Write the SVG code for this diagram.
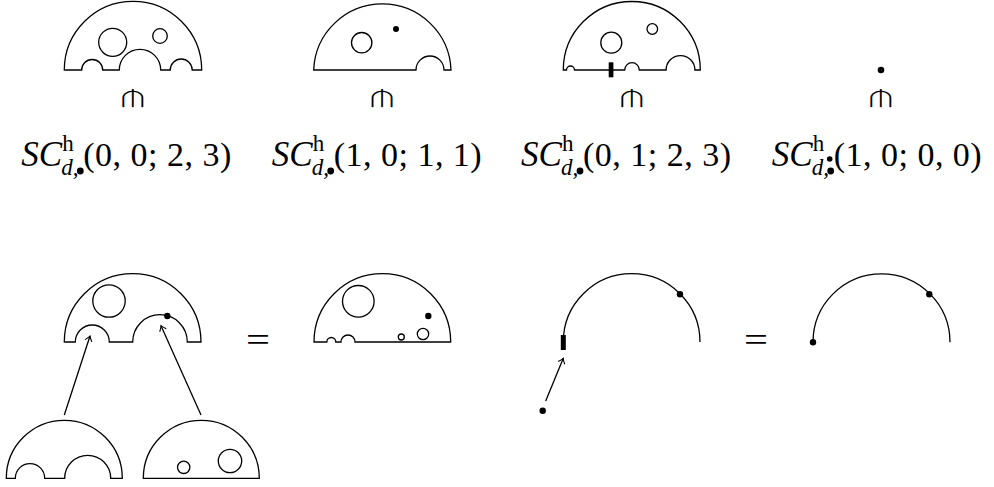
<svg xmlns="http://www.w3.org/2000/svg" width="994" height="487" viewBox="0 0 994 487">
<style>
.ln{fill:none;stroke:#000;stroke-width:1.3}
.dot{fill:#000}
.mt{font-family:"Liberation Serif",serif;fill:#000}
.it{font-style:italic}
.sym{font-family:"DejaVu Sans",sans-serif;font-size:32px;text-anchor:middle;fill:#000;stroke:#fff;stroke-width:1.35}
.eq{font-family:"Liberation Serif",serif;font-size:34px;text-anchor:middle;fill:#000}
</style>
<defs>
<marker id="ah" markerUnits="userSpaceOnUse" orient="auto" markerWidth="12" markerHeight="12" refX="0" refY="0" viewBox="-8 -6 10 12" overflow="visible">
<path d="M-5,-3.6 Q-1.8,-0.8 0,0 Q-1.8,0.8 -5,3.6" fill="none" stroke="#000" stroke-width="1.1"/>
</marker>
<clipPath id="symclip"><rect x="-30" y="-18.6" width="60" height="21"/></clipPath>
</defs>

<!-- top row -->
<g id="top1">
<path class="ln" d="M64.3,70 A68.7,68.7 0 0 1 201.7,70 L192.2,70 A11,11 0 0 0 170.2,70 L160.7,70 A20.7,20.7 0 0 0 119.3,70 L102.7,70 A10.5,10.5 0 0 0 81.7,70 Z"/>
<circle class="ln" cx="112.7" cy="42.3" r="14"/>
<circle class="ln" cx="160" cy="36" r="7.3"/>
<g transform="translate(132.7,107.6)"><text class="sym" x="0" y="0" transform="scale(1.55,1)" clip-path="url(#symclip)">⋔</text></g>
</g>
<g id="top2">
<path class="ln" d="M313.7,70 A68.7,68.7 0 0 1 451,70 L444,70 A14,14 0 0 0 416,70 Z"/>
<circle class="ln" cx="361.7" cy="42.7" r="10.2"/>
<circle class="dot" cx="396" cy="29" r="3"/>
<g transform="translate(382,107.6)"><text class="sym" x="0" y="0" transform="scale(1.55,1)" clip-path="url(#symclip)">⋔</text></g>
</g>
<g id="top3">
<path class="ln" d="M563.3,70 A68.5,68.5 0 0 1 700.3,70 L694.9,70 A14.4,14.4 0 0 0 666.1,70 L639.3,70 A7.3,7.3 0 0 0 624.7,70 L574.5,70 A4,4 0 0 0 566.5,70 Z"/>
<rect class="dot" x="608.7" y="62.3" width="4.7" height="15"/>
<circle class="ln" cx="611.3" cy="42.7" r="10.5"/>
<circle class="ln" cx="652.3" cy="29" r="5.3"/>
<g transform="translate(631.7,107.6)"><text class="sym" x="0" y="0" transform="scale(1.55,1)" clip-path="url(#symclip)">⋔</text></g>
</g>
<g id="top4">
<circle class="dot" cx="881" cy="70" r="3.3"/>
<g transform="translate(880.8,107.6)"><text class="sym" x="0" y="0" transform="scale(1.55,1)" clip-path="url(#symclip)">⋔</text></g>
</g>

<!-- labels -->
<g id="label1" transform="translate(22.3,0)">
<text class="mt it" x="-1" y="166" font-size="35">SC</text>
<text class="mt" x="40" y="151" font-size="23">h</text>
<text class="mt it" x="39" y="175" font-size="23">d,</text>
<circle class="dot" cx="58" cy="171" r="3.4"/>
<text class="mt" x="61" y="166" font-size="34" textLength="148" lengthAdjust="spacing">(0, 0; 2, 3)</text>
</g>
<g id="label2" transform="translate(272.7,0)">
<text class="mt it" x="-1" y="166" font-size="35">SC</text>
<text class="mt" x="40" y="151" font-size="23">h</text>
<text class="mt it" x="39" y="175" font-size="23">d,</text>
<circle class="dot" cx="58" cy="171" r="3.4"/>
<text class="mt" x="61" y="166" font-size="34" textLength="148" lengthAdjust="spacing">(1, 0; 1, 1)</text>
</g>
<g id="label3" transform="translate(522,0)">
<text class="mt it" x="-1" y="166" font-size="35">SC</text>
<text class="mt" x="40" y="151" font-size="23">h</text>
<text class="mt it" x="39" y="175" font-size="23">d,</text>
<circle class="dot" cx="58" cy="171" r="3.4"/>
<text class="mt" x="61" y="166" font-size="34" textLength="148" lengthAdjust="spacing">(0, 1; 2, 3)</text>
</g>
<g id="label4" transform="translate(772.7,0)">
<text class="mt it" x="-1" y="166" font-size="35">SC</text>
<text class="mt" x="40" y="151" font-size="23">h</text>
<text class="mt it" x="39" y="175" font-size="23">d,</text>
<circle class="dot" cx="57" cy="159" r="2.8"/>
<circle class="dot" cx="58" cy="171" r="3.4"/>
<text class="mt" x="61" y="166" font-size="34" textLength="148" lengthAdjust="spacing">(1, 0; 0, 0)</text>
</g>

<!-- bottom row -->
<g id="glueA">
<path class="ln" d="M64.3,342 A68.3,68.3 0 0 1 201,342 L187.3,342 A27.3,27.3 0 0 0 132.7,342 L109.3,342 A17,17 0 0 0 75.3,342 Z"/>
<circle class="ln" cx="109" cy="301" r="16.2"/>
<circle class="dot" cx="167.3" cy="316" r="3.2"/>
</g>
<g id="eq1"><text class="eq" x="0" y="0" transform="translate(258,351) scale(1.25,1)">=</text></g>
<g id="glueB">
<path class="ln" d="M314,342 A68.3,68.3 0 0 1 450.7,342 L355,342 A7,7 0 0 0 341,342 L335.8,342 A4.5,4.5 0 0 0 326.8,342 Z"/>
<circle class="ln" cx="358.3" cy="301.3" r="15.8"/>
<circle class="ln" cx="401.3" cy="337" r="3"/>
<circle class="ln" cx="423" cy="334" r="5.7"/>
<circle class="dot" cx="428.3" cy="316" r="3.2"/>
</g>
<g id="pieceA">
<path class="ln" d="M6.3,478.3 A58,58 0 0 1 122.3,478.3 L110.7,478.3 A23,23 0 0 0 64.7,478.3 L44.7,478.3 A14.7,14.7 0 0 0 15.3,478.3 Z"/>
</g>
<g id="pieceB">
<path class="ln" d="M143.3,478.3 A58,58 0 0 1 259.3,478.3 Z"/>
<circle class="ln" cx="183.7" cy="467.3" r="6.2"/>
<circle class="ln" cx="230" cy="461" r="11.7"/>
</g>
<g id="arcA">
<path class="ln" d="M563.3,342 A68.35,68.35 0 0 1 700,342"/>
<rect class="dot" x="560.8" y="335" width="5" height="15"/>
<circle class="dot" cx="680" cy="294.3" r="3.2"/>
</g>
<g id="ptA">
<circle class="dot" cx="542.7" cy="410.7" r="3.2"/>
</g>
<g id="eq2"><text class="eq" x="0" y="0" transform="translate(756,351) scale(1.25,1)">=</text></g>
<g id="arcB">
<path class="ln" d="M813,342.3 A68.5,68.5 0 0 1 950,342.3"/>
<circle class="dot" cx="813" cy="342.3" r="3.2"/>
<circle class="dot" cx="929.3" cy="294.3" r="3.2"/>
</g>

<g id="connectors">
<path class="ln" d="M64.3,415 L90,336" marker-end="url(#ah)"/>
<path class="ln" d="M201,415 L161,325.7" marker-end="url(#ah)"/>
<path class="ln" d="M545.7,401 L563.3,358.3" marker-end="url(#ah)"/>
</g>
</svg>
